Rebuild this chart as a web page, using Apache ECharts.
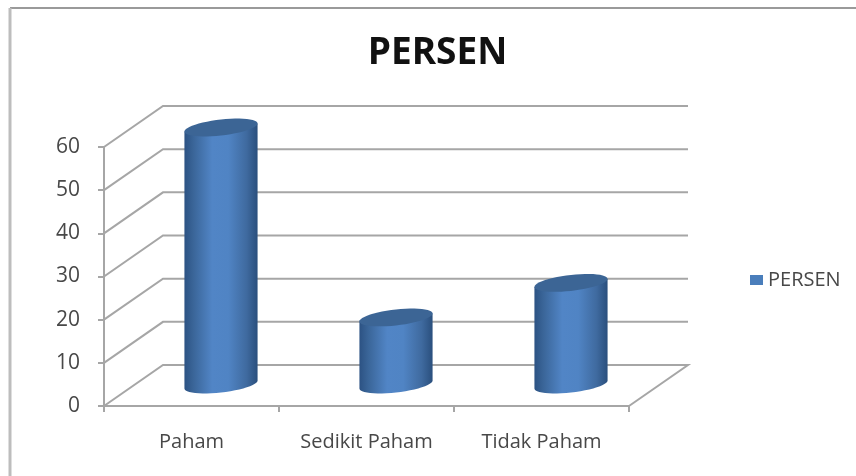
<!DOCTYPE html>
<html><head><meta charset="utf-8">
<style>html,body{margin:0;padding:0;background:#fff}#c{width:856px;height:476px;filter:blur(0.7px)}</style>
<script src="https://cdn.jsdelivr.net/npm/echarts@6/dist/echarts.min.js"></script>
</head><body><div id="c"></div>
<script>
const categories = ['Paham', 'Sedikit Paham', 'Tidak Paham'];
const persen = [60, 16, 24];
const yTicks = [0, 10, 20, 30, 40, 50, 60];
const seriesName = 'PERSEN';

const DX = 59, DY = -41, GRID = '#a6a6a6', TEXT = '#484848';
const FONT = '"Open Sans", sans-serif';
const chart = echarts.init(document.getElementById('c'), null, {renderer: 'canvas'});

function renderWall(params, api) {
  const p = api.coord([0, api.value(1)]);
  const L = params.coordSys.x, R = L + params.coordSys.width, y = p[1];
  const style = {stroke: GRID, lineWidth: 2, fill: 'none'};
  const pts = [[L, y], [L + DX, y + DY], [R + DX, y + DY]];
  if (api.value(1) === 0) pts.push([R, y]);
  return {type: 'polyline', silent: true, shape: {points: pts}, style};
}
function renderCyl(params, api) {
  const base = api.coord([api.value(0), 0]);
  const top = api.coord([api.value(0), api.value(1)]);
  const cx = base[0] + DX / 2, yb = base[1] + DY / 2 - 1, yt = top[1] + DY / 2 + 1;
  const a = api.size([1, 0])[0] * 0.209, b = 8, tilt = 4 / a;
  const ell = (cy, t) => [cx + a * Math.cos(t), cy - tilt * a * Math.cos(t) + b * Math.sin(t)];
  const body = [ell(yt, Math.PI), ell(yt, 0)];
  const ring = [];
  for (let i = 0; i <= 24; i++) body.push(ell(yb, Math.PI * i / 24));
  for (let i = 0; i < 48; i++) ring.push(ell(yt, Math.PI * 2 * i / 48));
  const grad = new echarts.graphic.LinearGradient(cx - a, 0, cx + a, 0, [
    {offset: 0, color: '#2c5283'}, {offset: 0.12, color: '#3a6598'},
    {offset: 0.38, color: '#5185c6'}, {offset: 0.6, color: '#5084c4'},
    {offset: 0.85, color: '#3f6a9f'}, {offset: 1, color: '#2a4f7d'}], true);
  return {type: 'group', children: [
    {type: 'polygon', shape: {points: body}, style: {fill: grad}},
    {type: 'polygon', shape: {points: ring}, style: {fill: '#3c6595'}}
  ]};
}

chart.setOption({
  animation: false,
  backgroundColor: '#fff',
  title: {text: seriesName, left: 432.5, top: 30, textAlign: 'center',
    textStyle: {fontFamily: FONT, fontWeight: 'bold', fontSize: 37, color: '#111'}},
  legend: {data: [{name: seriesName, icon: 'rect'}], left: 745, top: 265, itemWidth: 13, itemHeight: 10, itemGap: 6,
    textStyle: {fontFamily: FONT, fontSize: 20, color: TEXT, padding: [0, 0, 0, 0]}},
  grid: {left: 104, right: 227, top: 147, bottom: 70},
  xAxis: {type: 'category', data: categories,
    axisLine: {lineStyle: {color: GRID, width: 2}},
    axisTick: {show: true, length: 6, lineStyle: {color: GRID, width: 2}},
    axisLabel: {margin: 26, fontFamily: FONT, fontSize: 20, color: TEXT}},
  yAxis: {type: 'value', min: 0, max: 60, interval: 10,
    splitLine: {show: false},
    axisLine: {show: true, lineStyle: {color: GRID, width: 2}},
    axisTick: {show: true, length: 6, lineStyle: {color: GRID, width: 2}},
    axisLabel: {margin: 24, fontFamily: FONT, fontSize: 21, color: TEXT, padding: [6, 0, 0, 0]}},
  graphic: [
    {type: 'line', silent: true, shape: {x1: 10, y1: 8, x2: 856, y2: 8}, style: {stroke: '#9a9a9a', lineWidth: 2}},
    {type: 'line', silent: true, shape: {x1: 10, y1: 8, x2: 10, y2: 476}, style: {stroke: '#bdbdbd', lineWidth: 3}}
  ],
  series: [
    {type: 'custom', name: 'walls', silent: true, clip: false, z: 1, renderItem: renderWall,
     encode: {x: 0, y: 1}, data: yTicks.map(v => [0, v])},
    {type: 'custom', name: seriesName, clip: false, z: 3, renderItem: renderCyl,
     itemStyle: {color: '#4a7ebb'}, encode: {x: 0, y: 1}, data: persen.map((v, i) => [i, v])}
  ]
});
</script></body></html>
